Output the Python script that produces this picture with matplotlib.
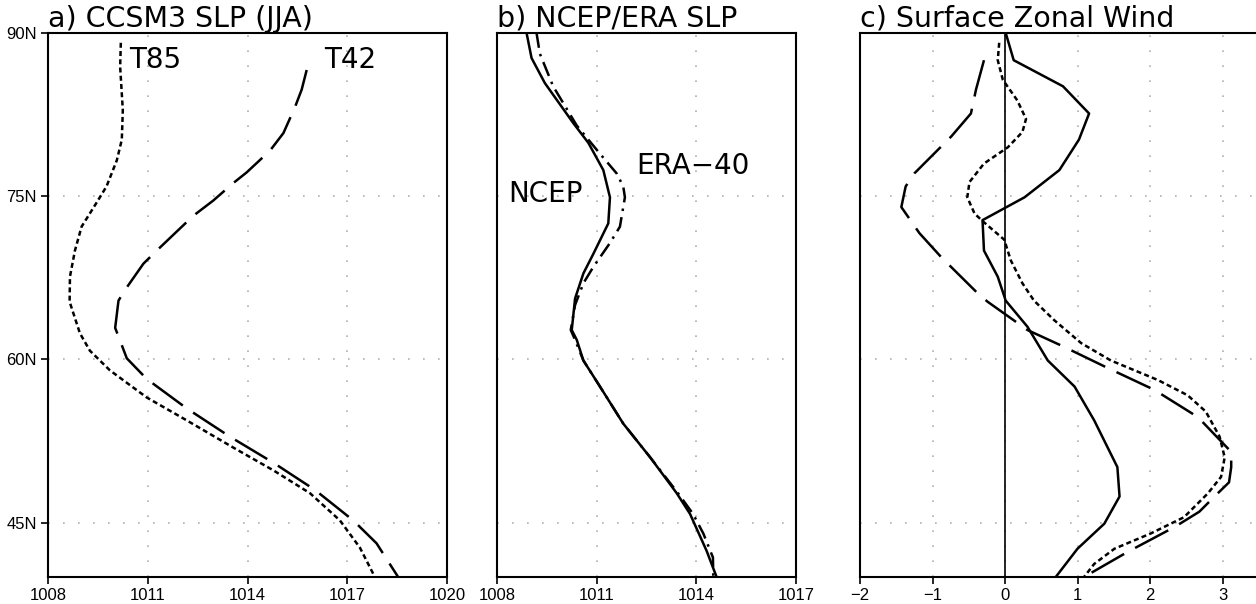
import matplotlib
matplotlib.use("Agg")
import matplotlib.pyplot as plt

# a) CCSM3 SLP (JJA)
lat_t85 = [89.1, 86.9, 82.9, 80.2, 78.3, 75.9, 74.4, 72.2, 70.0, 67.6, 65.3, 62.4, 60.8,
           59.0, 56.5, 54.4, 51.9, 49.8, 47.7, 45.2, 42.7, 40.0]
slp_t85 = [1010.19, 1010.17, 1010.25, 1010.22, 1010.07, 1009.76, 1009.46, 1009.01, 1008.81,
           1008.66, 1008.65, 1008.96, 1009.26, 1009.86, 1010.97, 1012.17, 1013.57, 1014.78,
           1015.88, 1016.78, 1017.38, 1017.83]
lat_t42 = [86.6, 84.8, 83.2, 80.8, 79.2, 77.2, 76.2, 74.6, 73.2, 70.0, 68.8, 66.4, 65.4,
           62.9, 62.1, 60.1, 58.2, 55.5, 52.9, 50.5, 48.0, 45.2, 43.1, 40.0]
slp_t42 = [1015.78, 1015.63, 1015.43, 1015.08, 1014.68, 1013.98, 1013.57, 1012.97, 1012.37,
           1011.27, 1010.87, 1010.32, 1010.12, 1010.02, 1010.12, 1010.37, 1010.97, 1012.17,
           1013.47, 1014.78, 1016.03, 1017.18, 1017.88, 1018.53]

# b) NCEP/ERA SLP
lat_ncep = [90, 87.7, 85.4, 81.7, 79.9, 77.4, 74.9, 72.5, 69.7, 67.9, 65.6, 62.7, 61.8,
            59.9, 57.5, 54.1, 51.0, 47.7, 45.8, 42.4, 40.0]
slp_ncep = [1008.89, 1009.04, 1009.44, 1010.30, 1010.75, 1011.20, 1011.40, 1011.35, 1010.90,
            1010.60, 1010.35, 1010.25, 1010.40, 1010.60, 1011.10, 1011.80, 1012.61, 1013.41,
            1013.81, 1014.31, 1014.61]
lat_era = [90, 88.1, 85.1, 81.5, 78.9, 77.1, 75.9, 74.9, 72.2, 70.7, 68.5, 67.0, 65.0,
           62.7, 61.8, 59.9, 57.5, 54.1, 51.0, 47.7, 45.8, 44.0, 41.8, 40.0]
slp_era = [1009.19, 1009.29, 1009.69, 1010.40, 1011.10, 1011.60, 1011.80, 1011.85, 1011.70,
           1011.40, 1010.90, 1010.60, 1010.35, 1010.22, 1010.35, 1010.60, 1011.10, 1011.80,
           1012.61, 1013.45, 1013.90, 1014.21, 1014.50, 1014.51]

# c) Surface Zonal Wind
lat_u_solid = [90, 87.5, 85.1, 82.6, 80.2, 77.4, 74.9, 72.8, 70.0, 67.6, 65.4, 63.0, 59.9,
               57.5, 54.4, 50.1, 47.4, 44.9, 42.6, 40.0]
u_solid = [0.01, 0.12, 0.80, 1.16, 1.02, 0.75, 0.27, -0.31, -0.29, -0.10, 0.01, 0.31, 0.59,
           0.96, 1.23, 1.55, 1.58, 1.37, 1.00, 0.70]
lat_u_short = [89.1, 87.5, 85.7, 83.8, 82.1, 80.9, 79.5, 78.0, 76.3, 74.9, 73.4, 72.6, 71.0,
               69.1, 67.0, 65.4, 63.6, 61.5, 59.9, 58.1, 56.7, 55.2, 52.9, 51.0, 49.2, 47.7,
               45.5, 44.0, 42.6, 41.2, 40.0]
u_short = [-0.08, -0.10, -0.03, 0.17, 0.29, 0.24, 0.04, -0.29, -0.49, -0.52, -0.42, -0.29,
           -0.01, 0.08, 0.24, 0.40, 0.68, 1.05, 1.46, 2.11, 2.52, 2.77, 2.96, 3.03, 2.98, 2.80,
           2.47, 2.01, 1.51, 1.23, 1.09]
lat_u_long = [87.5, 84.8, 82.6, 80.5, 77.1, 75.9, 74.0, 71.6, 69.4, 66.1, 65.3, 62.7, 61.2,
              59.2, 57.2, 54.7, 51.5, 50.1, 48.7, 47.4, 46.0, 44.6, 42.3, 40.0]
u_long = [-0.29, -0.40, -0.47, -0.74, -1.25, -1.37, -1.43, -1.18, -0.88, -0.38, -0.24, 0.31,
          0.80, 1.42, 2.06, 2.66, 3.12, 3.12, 3.09, 2.89, 2.68, 2.34, 1.69, 1.09]

lat_ticks = [45, 60, 75, 90]
lat_labels = ["45N", "60N", "75N", "90N"]
u_ticks = [-2, -1, 0, 1, 2, 3]
u_labels = ["\u22122", "\u22121", "0", "1", "2", "3"]

LW = 1.8
SHORT = (0, (2.0, 1.3))
LONG = (0, (15, 5))
DASHDOT = (0, (6, 2.5, 1, 2.5))
TICKFONT = {"family": "Liberation Sans", "size": 12}

fig = plt.figure(figsize=(12.56, 6.04), dpi=100)
W, H = 1256, 604


def make_axes(left_px, width_px):
    ax = fig.add_axes([left_px / W, 27 / H, width_px / W, 544 / H])
    ax.set_ylim(40, 90)
    ax.set_yticks(lat_ticks)
    for s in ax.spines.values():
        s.set_linewidth(1.5)
    ax.tick_params(direction="out", length=5, width=1.2, pad=3)
    ax.grid(True, color="#b0b0b0", linestyle=(0, (1, 8)), linewidth=1.2)
    return ax


ax1 = make_axes(48, 399)
ax2 = make_axes(497, 299)
ax3 = make_axes(860, 435)

# panel a
ax1.set_xlim(1008, 1020)
ax1.set_xticks([1008, 1011, 1014, 1017, 1020])
ax1.set_yticklabels(lat_labels, fontdict=TICKFONT)
ax1.plot(slp_t85, lat_t85, color="black", lw=LW, linestyle=SHORT)
ax1.plot(slp_t42, lat_t42, color="black", lw=LW, linestyle=LONG)
ax1.text(1010.45, 87.5, "T85", fontsize=20, va="center", ha="left")
ax1.text(1016.3, 87.5, "T42", fontsize=20, va="center", ha="left")

# panel b
ax2.set_xlim(1008, 1017)
ax2.set_xticks([1008, 1011, 1014, 1017])
ax2.plot(slp_ncep, lat_ncep, color="black", lw=LW, linestyle="-")
ax2.plot(slp_era, lat_era, color="black", lw=LW, linestyle=DASHDOT)
ax2.text(1012.2, 77.8, "ERA\u221240", fontsize=20, va="center", ha="left")
ax2.text(1008.35, 75.2, "NCEP", fontsize=20, va="center", ha="left")

# panel c (right edge runs past the figure, as in the original)
ax3.set_xlim(-2, 4)
ax3.set_xticks(u_ticks)
ax3.set_xticklabels(u_labels)
ax3.axvline(0, color="black", lw=1.2)
ax3.plot(u_solid, lat_u_solid, color="black", lw=LW, linestyle="-")
ax3.plot(u_short, lat_u_short, color="black", lw=LW, linestyle=SHORT)
ax3.plot(u_long, lat_u_long, color="black", lw=LW, linestyle=LONG)

for ax in (ax2, ax3):
    ax.tick_params(axis="y", length=0, labelleft=False)

for ax in (ax1, ax2, ax3):
    for lab in ax.get_xticklabels():
        lab.set_fontfamily("Liberation Sans")
        lab.set_fontsize(12)

titles = ["a) CCSM3 SLP (JJA)", "b) NCEP/ERA SLP", "c) Surface Zonal Wind"]
for ax, t in zip((ax1, ax2, ax3), titles):
    ax.set_title(t, loc="left", fontsize=20.5, pad=3)

fig.savefig("out.png", dpi=100)
